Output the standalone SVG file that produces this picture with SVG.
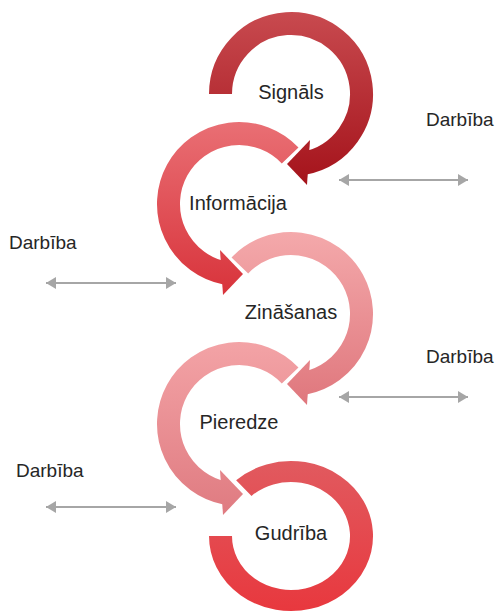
<svg xmlns="http://www.w3.org/2000/svg" width="499" height="616" viewBox="0 0 499 616">
<defs>
<linearGradient id="g1" gradientUnits="userSpaceOnUse" x1="0" y1="-82" x2="0" y2="94"><stop offset="0" stop-color="#c84a4f"/><stop offset="1" stop-color="#a4121a"/></linearGradient>
<linearGradient id="g2" gradientUnits="userSpaceOnUse" x1="0" y1="-82" x2="0" y2="94"><stop offset="0" stop-color="#e96f74"/><stop offset="1" stop-color="#d8323a"/></linearGradient>
<linearGradient id="g3" gradientUnits="userSpaceOnUse" x1="0" y1="-82" x2="0" y2="94"><stop offset="0" stop-color="#f4a9ab"/><stop offset="1" stop-color="#df767c"/></linearGradient>
<linearGradient id="g4" gradientUnits="userSpaceOnUse" x1="0" y1="-82" x2="0" y2="94"><stop offset="0" stop-color="#f3a3a6"/><stop offset="1" stop-color="#df7a80"/></linearGradient>
<linearGradient id="g5" gradientUnits="userSpaceOnUse" x1="0" y1="-82" x2="0" y2="82"><stop offset="0" stop-color="#e15a5f"/><stop offset="1" stop-color="#e8383e"/></linearGradient>
<marker id="ah" markerUnits="userSpaceOnUse" markerWidth="10" markerHeight="12" viewBox="0 0 10 12" refX="10" refY="6" orient="auto-start-reverse"><path d="M0,0 L10,6 L0,12 z" fill="#a6a6a6"/></marker>
</defs>
<style>
.band{fill:none;stroke-width:23;stroke-linecap:butt}
.lbl{font-family:"Liberation Sans",Arial,sans-serif;font-size:20px;fill:#262626;text-anchor:middle}
.act{font-family:"Liberation Sans",Arial,sans-serif;font-size:19px;fill:#262626}
.conn{stroke:#a6a6a6;stroke-width:2;fill:none;marker-start:url(#ah);marker-end:url(#ah)}
</style>
<g id="gudriba">
<g transform="translate(291,536) scale(1,0.915)">
<path class="band" stroke="url(#g5)" d="M-47.17,-52.39 A70.5,70.5 0 1 1 -70.5,0"/>
</g>
<text class="lbl" x="291" y="540">Gudrība</text>
</g>
<g id="pieredze">
<g transform="translate(239,424) scale(-1,1)">
<path class="band" stroke="url(#g4)" d="M-51.14,-48.53 A70.5,70.5 0 1 1 13.45,69.2"/>
<path fill="url(#g4)" d="M19,46 L16,91 L-4,70 z"/>
</g>
<text class="lbl" x="239" y="429">Pieredze</text>
</g>
<g id="zinasanas">
<g transform="translate(291,314)">
<path class="band" stroke="url(#g3)" d="M-51.14,-48.53 A70.5,70.5 0 1 1 13.45,69.2"/>
<path fill="url(#g3)" d="M19,46 L16,91 L-4,70 z"/>
</g>
<text class="lbl" x="291" y="319">Zināšanas</text>
</g>
<g id="informacija">
<g transform="translate(239,204) scale(-1,1)">
<path class="band" stroke="url(#g2)" d="M-51.14,-48.53 A70.5,70.5 0 1 1 13.45,69.2"/>
<path fill="url(#g2)" d="M19,46 L16,91 L-4,70 z"/>
</g>
<text class="lbl" x="238" y="210">Informācija</text>
</g>
<g id="signals">
<g transform="translate(291,94)">
<path class="band" stroke="url(#g1)" d="M-70.5,0 A70.5,70.5 0 1 1 13.45,69.2"/>
<path fill="url(#g1)" d="M19,46 L16,91 L-4,70 z"/>
</g>
<text class="lbl" x="291" y="99">Signāls</text>
</g>
<g id="connectors">
<line class="conn" x1="339" y1="180" x2="468" y2="180"/>
<line class="conn" x1="46" y1="283" x2="176" y2="283"/>
<line class="conn" x1="339" y1="397" x2="468" y2="397"/>
<line class="conn" x1="46" y1="507" x2="176" y2="507"/>
</g>
<g id="labels">
<text class="act" x="426" y="126">Darbība</text>
<text class="act" x="9" y="249">Darbība</text>
<text class="act" x="426" y="363">Darbība</text>
<text class="act" x="16" y="477">Darbība</text>
</g>
</svg>
